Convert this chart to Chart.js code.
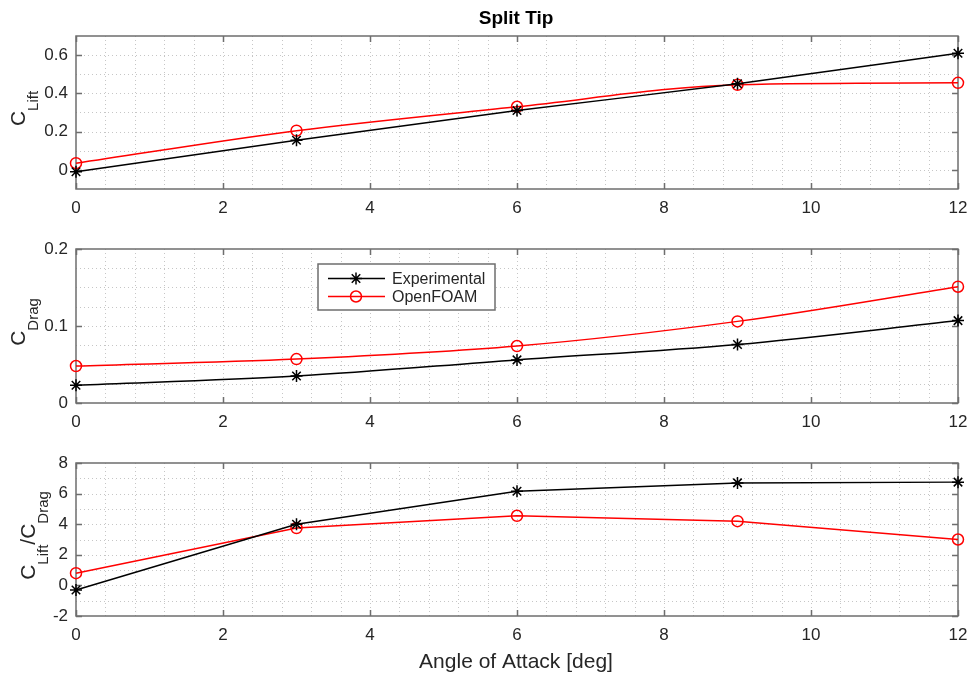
<!DOCTYPE html>
<html>
<head>
<meta charset="utf-8">
<script src="https://cdn.jsdelivr.net/npm/chart.js@4/dist/chart.umd.min.js"></script>
<style>
  html, body { margin: 0; padding: 0; background: #ffffff; }
  #wrap { position: relative; width: 972px; height: 677px; background: #ffffff; overflow: hidden; }
  .pane { position: absolute; left: 0; width: 972px; }
  canvas { display: block; }
</style>
</head>
<body>
<div id="wrap"></div>
<script>
// ---------------- data ----------------
const chartTitle = 'Split Tip';
const xAxisTitle = 'Angle of Attack [deg]';
const seriesNames = ['Experimental', 'OpenFOAM'];
const angles = [0, 3, 6, 9, 12];

const liftExperimental = [-0.01, 0.155, 0.31, 0.45, 0.61];
const liftOpenFOAM     = [0.035, 0.205, 0.33, 0.445, 0.455];

const dragExperimental = [0.023, 0.035, 0.056, 0.076, 0.107];
const dragOpenFOAM     = [0.048, 0.057, 0.074, 0.106, 0.151];

const ratioExperimental = [-0.3, 4.0, 6.15, 6.7, 6.75];
const ratioOpenFOAM     = [0.8, 3.75, 4.55, 4.2, 3.0];

const xTickValues = [0, 2, 4, 6, 8, 10, 12];
const xTickLabels = ['0', '2', '4', '6', '8', '10', '12'];
const liftTickValues = [0, 0.2, 0.4, 0.6];
const liftTickLabels = ['0', '0.2', '0.4', '0.6'];
const dragTickValues = [0, 0.1, 0.2];
const dragTickLabels = ['0', '0.1', '0.2'];
const ratioTickValues = [-2, 0, 2, 4, 6, 8];
const ratioTickLabels = ['-2', '0', '2', '4', '6', '8'];

// ---------------- style / layout ----------------
const FONT = '"Liberation Sans", Arial, Helvetica, sans-serif';
const TEXT_COLOR = '#262626';
const AXIS_COLOR = '#6e6e6e';
const GRID_COLOR = '#c6c6c6';
const EXP_COLOR = '#000000';
const CFD_COLOR = '#ff0000';
const PLOT_LEFT = 76, PLOT_RIGHT = 958, W = 972;

const panels = [
  { top: 0,   height: 222, plotTop: 36,  plotBottom: 189, min: -0.1, max: 0.7, minorStep: 0.1,
    ticks: liftTickValues, labels: liftTickLabels, exp: liftExperimental, cfd: liftOpenFOAM,
    smooth: true, ylabel: [['C', 0], ['Lift', 1]], ylabelX: 25, title: true },
  { top: 222, height: 213, plotTop: 249, plotBottom: 403, min: 0, max: 0.2, minorStep: 0.025,
    ticks: dragTickValues, labels: dragTickLabels, exp: dragExperimental, cfd: dragOpenFOAM,
    smooth: true, ylabel: [['C', 0], ['Drag', 1]], ylabelX: 25, legend: true },
  { top: 435, height: 242, plotTop: 463, plotBottom: 616, min: -2, max: 8, minorStep: 1,
    ticks: ratioTickValues, labels: ratioTickLabels, exp: ratioExperimental, cfd: ratioOpenFOAM,
    smooth: false, ylabel: [['C', 0], ['Lift', 1], ['/C', 0], ['Drag', 1]], ylabelX: 35, xtitle: true }
];

function drawStar(ctx, x, y, r) {
  ctx.beginPath();
  for (let k = 0; k < 4; k++) {
    const a = k * Math.PI / 4;
    ctx.moveTo(x - r * Math.sin(a), y - r * Math.cos(a));
    ctx.lineTo(x + r * Math.sin(a), y + r * Math.cos(a));
  }
  ctx.stroke();
}
function drawCircle(ctx, x, y, r) {
  ctx.beginPath();
  ctx.arc(x, y, r, 0, Math.PI * 2);
  ctx.stroke();
}

function drawSubLabel(ctx, parts, baseX, centerY) {
  const mainFont = '21px ' + FONT, subFont = '15px ' + FONT, subShift = 13;
  let total = 0;
  const widths = parts.map(p => { ctx.font = p[1] ? subFont : mainFont; const w = ctx.measureText(p[0]).width; total += w; return w; });
  ctx.save();
  ctx.translate(baseX, centerY);
  ctx.rotate(-Math.PI / 2);
  ctx.fillStyle = TEXT_COLOR;
  ctx.textBaseline = 'alphabetic';
  ctx.textAlign = 'left';
  let pos = -total / 2;
  parts.forEach((p, i) => {
    ctx.font = p[1] ? subFont : mainFont;
    ctx.fillText(p[0], pos, p[1] ? subShift : 0);
    pos += widths[i];
  });
  ctx.restore();
}

function makeFramePlugin(p) {
  return {
    id: 'frame',
    beforeDatasetsDraw(chart) {
      const { ctx, chartArea: a, scales } = chart;
      const xs = scales.x, ys = scales.y;
      ctx.save();
      // dotted grid
      ctx.strokeStyle = GRID_COLOR;
      ctx.lineWidth = 1;
      ctx.setLineDash([1, 3]);
      const xStep = 0.4;
      for (let k = 1; k * xStep < xs.max - 1e-9; k++) {
        const px = Math.round(xs.getPixelForValue(k * xStep)) + 0.5;
        ctx.beginPath(); ctx.moveTo(px, a.top); ctx.lineTo(px, a.bottom); ctx.stroke();
      }
      const nY = Math.round((p.max - p.min) / p.minorStep);
      for (let k = 1; k < nY; k++) {
        const py = Math.round(ys.getPixelForValue(p.min + k * p.minorStep)) + 0.5;
        ctx.beginPath(); ctx.moveTo(a.left, py); ctx.lineTo(a.right, py); ctx.stroke();
      }
      ctx.setLineDash([]);
      // box
      ctx.strokeStyle = AXIS_COLOR;
      ctx.lineWidth = 1.5;
      ctx.strokeRect(a.left, a.top, a.right - a.left, a.bottom - a.top);
      // inward tick marks
      const tl = 6;
      ctx.beginPath();
      xTickValues.forEach(v => {
        const px = Math.round(xs.getPixelForValue(v)) + 0.5;
        ctx.moveTo(px, a.bottom); ctx.lineTo(px, a.bottom - tl);
        ctx.moveTo(px, a.top); ctx.lineTo(px, a.top + tl);
      });
      p.ticks.forEach(v => {
        const py = Math.round(ys.getPixelForValue(v)) + 0.5;
        ctx.moveTo(a.left, py); ctx.lineTo(a.left + tl, py);
        ctx.moveTo(a.right, py); ctx.lineTo(a.right - tl, py);
      });
      ctx.stroke();
      ctx.restore();
    },
    afterDraw(chart) {
      const { ctx, chartArea: a } = chart;
      ctx.save();
      drawSubLabel(ctx, p.ylabel, p.ylabelX, (a.top + a.bottom) / 2 - 4);
      ctx.fillStyle = TEXT_COLOR;
      ctx.textAlign = 'center';
      ctx.textBaseline = 'alphabetic';
      const cx = (a.left + a.right) / 2 - 1;
      if (p.title) {
        ctx.font = 'bold 19px ' + FONT;
        ctx.fillStyle = '#000000';
        ctx.fillText(chartTitle, cx, 24);
      }
      if (p.xtitle) {
        ctx.font = '21px ' + FONT;
        ctx.fillStyle = TEXT_COLOR;
        ctx.fillText(xAxisTitle, cx, 668 - p.top);
      }
      if (p.legend) {
        const bx = 318, by = 264 - p.top, bw = 177, bh = 46;
        ctx.fillStyle = '#ffffff';
        ctx.fillRect(bx, by, bw, bh);
        ctx.strokeStyle = AXIS_COLOR;
        ctx.lineWidth = 1.5;
        ctx.strokeRect(bx, by, bw, bh);
        const rows = [
          { name: seriesNames[0], color: EXP_COLOR, marker: 'star', y: by + 14.5 },
          { name: seriesNames[1], color: CFD_COLOR, marker: 'circle', y: by + 32.5 }
        ];
        rows.forEach(r => {
          ctx.strokeStyle = r.color;
          ctx.lineWidth = 1.5;
          ctx.beginPath(); ctx.moveTo(bx + 10, r.y); ctx.lineTo(bx + 67, r.y); ctx.stroke();
          if (r.marker === 'star') drawStar(ctx, bx + 38, r.y, 6); else drawCircle(ctx, bx + 38, r.y, 5.5);
          ctx.fillStyle = TEXT_COLOR;
          ctx.font = '16px ' + FONT;
          ctx.textAlign = 'left';
          ctx.textBaseline = 'middle';
          ctx.fillText(r.name, bx + 74, r.y + 1);
        });
      }
      ctx.restore();
    }
  };
}

function zeroPad(s) { s.paddingLeft = 0; s.paddingRight = 0; s.paddingTop = 0; s.paddingBottom = 0; }

const wrap = document.getElementById('wrap');
panels.forEach((p, idx) => {
  const div = document.createElement('div');
  div.className = 'pane';
  div.style.top = p.top + 'px';
  div.style.height = p.height + 'px';
  const cv = document.createElement('canvas');
  cv.width = W; cv.height = p.height;
  cv.style.width = W + 'px'; cv.style.height = p.height + 'px';
  div.appendChild(cv);
  wrap.appendChild(div);

  const xAxisH = p.height - (p.plotBottom - p.top);
  const ds = (label, data, color, style, radius) => ({
    label,
    data: angles.map((a, i) => ({ x: a, y: data[i] })),
    borderColor: color,
    backgroundColor: 'rgba(0,0,0,0)',
    borderWidth: 1.5,
    pointStyle: style,
    pointRadius: radius,
    pointHoverRadius: radius,
    pointBorderColor: color,
    pointBackgroundColor: 'rgba(0,0,0,0)',
    pointBorderWidth: 1.5,
    cubicInterpolationMode: p.smooth ? 'monotone' : 'default',
    tension: 0,
    clip: false,
    fill: false
  });

  new Chart(cv.getContext('2d'), {
    type: 'line',
    data: {
      datasets: [
        ds(seriesNames[0], p.exp, EXP_COLOR, 'star', 6),
        ds(seriesNames[1], p.cfd, CFD_COLOR, 'circle', 5.5)
      ]
    },
    options: {
      responsive: false,
      animation: false,
      devicePixelRatio: 1,
      events: [],
      layout: { padding: { top: p.plotTop - p.top, left: 0, right: W - PLOT_RIGHT, bottom: 0 } },
      plugins: { legend: { display: false }, tooltip: { enabled: false }, title: { display: false } },
      scales: {
        x: {
          type: 'linear', min: 0, max: 12,
          grid: { display: false, drawTicks: false },
          border: { display: false },
          afterBuildTicks: s => { s.ticks = xTickValues.map(v => ({ value: v })); },
          afterFit: s => { s.height = xAxisH; zeroPad(s); },
          ticks: {
            padding: 9, color: TEXT_COLOR, font: { family: FONT, size: 17 },
            maxRotation: 0, autoSkip: false,
            callback: v => { const i = xTickValues.indexOf(v); return i >= 0 ? xTickLabels[i] : ''; }
          }
        },
        y: {
          type: 'linear', min: p.min, max: p.max,
          grid: { display: false, drawTicks: false },
          border: { display: false },
          afterBuildTicks: s => { s.ticks = p.ticks.map(v => ({ value: v })); },
          afterFit: s => { s.width = PLOT_LEFT; zeroPad(s); },
          ticks: {
            padding: 8, color: TEXT_COLOR, font: { family: FONT, size: 17 },
            autoSkip: false,
            callback: v => { const i = p.ticks.findIndex(t => Math.abs(t - v) < 1e-9); return i >= 0 ? p.labels[i] : ''; }
          }
        }
      }
    },
    plugins: [makeFramePlugin(p)]
  });
});
</script>
</body>
</html>
